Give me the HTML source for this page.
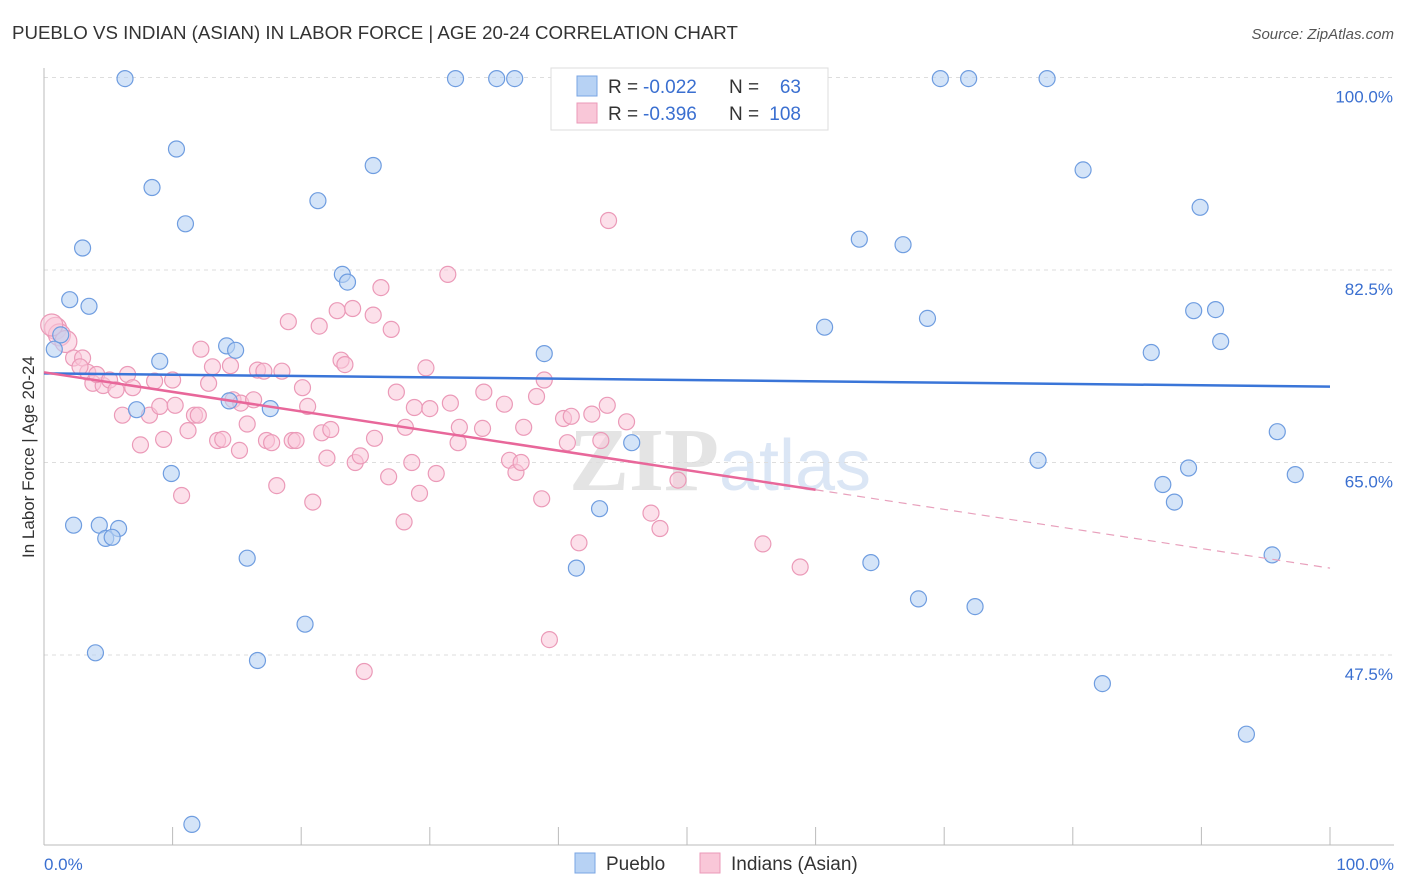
<!DOCTYPE html>
<html><head><meta charset="utf-8">
<style>
body{margin:0;background:#fff;font-family:"Liberation Sans",sans-serif;}
svg{display:block}
</style></head>
<body>
<svg id="chart" width="1406" height="892" viewBox="0 0 1406 892" xmlns="http://www.w3.org/2000/svg">
<text x="12" y="39" font-size="18.7" fill="#333">PUEBLO VS INDIAN (ASIAN) IN LABOR FORCE | AGE 20-24 CORRELATION CHART</text>
<text x="1394" y="39" font-size="15" fill="#555" font-style="italic" text-anchor="end">Source: ZipAtlas.com</text>
<text x="720" y="490" font-size="90" fill="#e4e4e4" text-anchor="middle" font-family="Liberation Serif,serif" font-weight="bold">ZIP<tspan fill="#dbe6f5" font-family="Liberation Sans,sans-serif" font-weight="normal" font-size="72">atlas</tspan></text>
<g id="grid"></g>
<g id="points"></g>
<g id="trends"></g>
<text x="34" y="457" font-size="17" fill="#333" text-anchor="middle" transform="rotate(-90 34 457)">In Labor Force | Age 20-24</text>
<g>
<rect x="551" y="68" width="277" height="62" fill="#fff" stroke="#ddd"/>
<rect x="577" y="76" width="20" height="20" fill="#b7d2f4" stroke="#7aa5e3"/>
<rect x="577" y="103" width="20" height="20" fill="#f9c7d8" stroke="#eb9ab8"/>
<text x="608" y="93" font-size="19" fill="#333">R =</text>
<text x="643" y="93" font-size="19" fill="#3a6fd0">-0.022</text>
<text x="729" y="93" font-size="19" fill="#333">N =</text>
<text x="801" y="93" font-size="19" fill="#3a6fd0" text-anchor="end">63</text>
<text x="608" y="120" font-size="19" fill="#333">R =</text>
<text x="643" y="120" font-size="19" fill="#3a6fd0">-0.396</text>
<text x="729" y="120" font-size="19" fill="#333">N =</text>
<text x="801" y="120" font-size="19" fill="#3a6fd0" text-anchor="end">108</text>
</g>
<g>
<rect x="575" y="853" width="20" height="20" fill="#b7d2f4" stroke="#7aa5e3"/>
<text x="606" y="870" font-size="19" fill="#333">Pueblo</text>
<rect x="700" y="853" width="20" height="20" fill="#f9c7d8" stroke="#eb9ab8"/>
<text x="731" y="870" font-size="19" fill="#333">Indians (Asian)</text>
</g>
</svg>
<script>
const yTicks=[100,82.5,65,47.5];
const yTickLabels=["100.0%","82.5%","65.0%","47.5%"];
const xTickLabels=["0.0%","100.0%"];
const puebloX=[6.3,32.0,35.2,36.6,69.7,71.9,78.0,10.3,8.4,25.6,21.3,11.0,3.0,80.8,89.9,63.4,66.8,23.2,23.6,2.0,3.5,60.7,68.7,89.4,91.1,91.5,86.1,0.8,1.3,14.2,14.9,9.0,38.9,14.4,17.6,7.2,45.7,95.9,77.3,89.0,87.0,87.9,97.3,9.9,43.2,2.3,4.3,5.8,4.8,5.3,15.8,41.4,64.3,95.5,68.0,72.4,20.3,4.0,16.6,82.3,93.5,11.5];
const puebloY=[99.9,99.9,99.9,99.9,99.9,99.9,99.9,93.5,90.0,92.0,88.8,86.7,84.5,91.6,88.2,85.3,84.8,82.1,81.4,79.8,79.2,77.3,78.1,78.8,78.9,76.0,75.0,75.3,76.6,75.6,75.2,74.2,74.9,70.6,69.9,69.8,66.8,67.8,65.2,64.5,63.0,61.4,63.9,64.0,60.8,59.3,59.3,59.0,58.1,58.2,56.3,55.4,55.9,56.6,52.6,51.9,50.3,47.7,47.0,44.9,40.3,32.1];
const indianX=[0.9,1.2,1.7,0.6,2.3,3.0,3.4,2.8,3.8,4.6,4.1,5.1,5.6,6.5,6.9,6.1,7.5,8.2,8.6,9.0,9.3,10.0,10.2,10.7,11.2,11.7,12.0,12.2,12.8,13.1,13.5,13.9,14.5,14.7,15.2,15.3,15.8,16.3,16.6,17.1,17.3,17.7,18.1,18.5,19.0,19.3,19.6,20.1,20.5,20.9,21.4,21.6,22.0,22.3,22.8,23.1,23.4,24.0,24.2,24.6,24.9,25.6,25.7,26.2,26.8,27.0,27.4,28.0,28.1,28.6,28.8,29.2,29.7,30.0,30.5,31.4,31.6,32.3,32.2,34.2,34.1,35.8,36.2,36.7,37.1,37.3,38.3,38.9,38.7,39.3,40.4,40.7,41.0,41.6,42.6,43.3,43.8,43.9,45.3,47.2,47.9,49.3,55.9,58.8];
const indianY=[77.2,76.6,76.0,77.5,74.5,74.5,73.2,73.7,72.2,72.0,73.0,72.5,71.6,73.0,71.8,69.3,66.6,69.3,72.4,70.1,67.1,72.5,70.2,62.0,67.9,69.3,69.3,75.3,72.2,73.7,67.0,67.1,73.8,70.7,66.1,70.4,68.5,70.7,73.4,73.3,67.0,66.8,62.9,73.3,77.8,67.0,67.0,71.8,70.1,61.4,77.4,67.7,65.4,68.0,78.8,74.3,73.9,79.0,65.0,65.6,46.0,78.4,67.2,80.9,63.7,77.1,71.4,59.6,68.2,65.0,70.0,62.2,73.6,69.9,64.0,82.1,70.4,68.2,66.8,71.4,68.1,70.3,65.2,64.1,65.0,68.2,71.0,72.5,61.7,48.9,69.0,66.8,69.2,57.7,69.4,67.0,70.2,87.0,68.7,60.4,59.0,63.4,57.6,55.5];
const puebloTrend=[73.1,71.9];
const indianTrend=[73.2,55.4];
const indianSolidEnd=60;
const NS="http://www.w3.org/2000/svg";
const X0=44,X1=1330,Ybot=845;
const sx=v=>X0+(X1-X0)*v/100;
const sy=v=>77.5+(100-v)*11;
function mk(tag,attrs,parent){const e=document.createElementNS(NS,tag);for(const k in attrs)e.setAttribute(k,attrs[k]);parent.appendChild(e);return e;}
const grid=document.getElementById('grid');
yTicks.forEach((t,i)=>{
  const l=mk('line',{x1:X0,x2:1394,y1:sy(t),y2:sy(t),stroke:'#ddd','stroke-dasharray':'4,4'},grid);
  
  
  const tx=mk('text',{x:1393,y:sy(t)+25,'font-size':17,fill:'#3a6fd0','text-anchor':'end'},grid);
  tx.textContent=yTickLabels[i];
  
  
});
const ax=mk('line',{x1:X0,x2:1394,y1:Ybot,y2:Ybot,stroke:'#bbb'},grid);


const ay=mk('line',{x1:X0,x2:X0,y1:68,y2:Ybot,stroke:'#bbb'},grid);


for(let i=0;i<=10;i++){
  const t=mk('line',{x1:sx(i*10),x2:sx(i*10),y1:Ybot,y2:Ybot-18,stroke:'#bbb'},grid);
  
  
}
[[0,'start',X0],[1,'end',1394]].forEach(([i,a,x])=>{
  const tx=mk('text',{x:x,y:870,'font-size':17,fill:'#3a6fd0','text-anchor':a},grid);
  tx.textContent=xTickLabels[i];
  
  
});
const pts=document.getElementById('points');
indianX.forEach((x,i)=>{
  const r=i<4?11:8;
  const c=mk('circle',{cx:sx(x),cy:sy(indianY[i]),r:r,fill:'#f9c7d8','fill-opacity':0.55,stroke:'#eb9ab8','stroke-width':1.2},pts);
  
  
});
puebloX.forEach((x,i)=>{
  const c=mk('circle',{cx:sx(x),cy:sy(puebloY[i]),r:8,fill:'#b7d2f4','fill-opacity':0.6,stroke:'#6f9de0','stroke-width':1.2},pts);
  
  
});
const tr=document.getElementById('trends');
const bl=mk('line',{x1:sx(0),y1:sy(puebloTrend[0]),x2:sx(100),y2:sy(puebloTrend[1]),stroke:'#3a75d8','stroke-width':2.5},tr);


const ym=indianTrend[0]+(indianTrend[1]-indianTrend[0])*indianSolidEnd/100;
const pl=mk('line',{x1:sx(0),y1:sy(indianTrend[0]),x2:sx(indianSolidEnd),y2:sy(ym),stroke:'#e8679a','stroke-width':2.5},tr);


const pd=mk('line',{x1:sx(indianSolidEnd),y1:sy(ym),x2:sx(100),y2:sy(indianTrend[1]),stroke:'#e8a0bc','stroke-width':1.2,'stroke-dasharray':'8,6'},tr);


</script>
</body></html>
